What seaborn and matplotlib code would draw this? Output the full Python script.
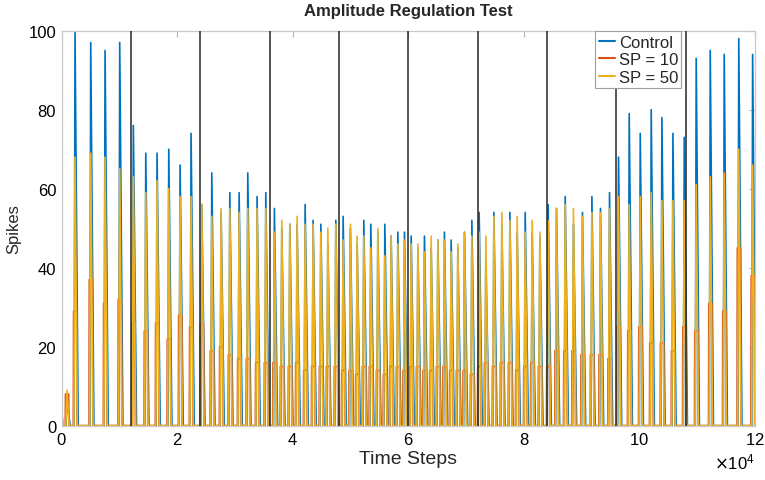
import numpy as np
import pandas as pd
import seaborn as sns
import matplotlib.pyplot as plt
from matplotlib.ticker import ScalarFormatter

# =============================================================================
# Data (peak time in steps, peak height in spikes)
# =============================================================================
peak_times = [0, 900,
              2300, 5020, 7500, 10040,
              12400, 14550, 16500, 18530, 20490, 22390,
              24250, 25980, 27590, 29100, 30710, 32210, 33820, 35330,
              36820, 38100, 39490, 40750, 42140, 43520, 44860, 46070, 47450,
              48720, 49980, 51140, 52300, 53510, 54730, 55940, 57030, 58190, 59340,
              60500, 61660, 62800, 63960, 65120, 66260, 67420, 68580, 69730, 71010,
              72270, 73430, 74820, 76200, 77590, 78850, 80240, 81450, 82780,
              84220, 85660, 87170, 88600, 90160, 91790, 93280, 94840,
              96400, 98250, 100160, 102060, 103910, 105820, 107780,
              109850, 112280, 114700, 117220, 119620]

control_peaks = [0, 7,
                 100, 97, 95, 97,
                 76, 69, 69, 70, 66, 74,
                 56, 64, 54, 59, 59, 64, 58, 59,
                 55, 50, 51, 51, 56, 52, 51, 46, 52,
                 53, 50, 46, 52, 51, 49, 51, 48, 49, 49,
                 48, 45, 48, 45, 47, 49, 47, 45, 49, 52,
                 54, 42, 54, 51, 54, 49, 54, 49, 48,
                 56, 55, 58, 51, 54, 58, 55, 59,
                 68, 79, 74, 80, 78, 74, 73,
                 93, 95, 94, 98, 94]

sp10_peaks = [0, 8,
              29, 37, 31, 32,
              26, 24, 26, 22, 28, 25,
              26, 19, 20, 18, 17, 17, 16, 16,
              16, 15, 15, 16, 14, 15, 15, 15, 15,
              14, 14, 13, 15, 15, 14, 13, 15, 15, 14,
              15, 15, 14, 14, 15, 15, 14, 14, 14, 13,
              15, 16, 15, 16, 16, 14, 15, 16, 15,
              15, 19, 19, 19, 18, 18, 18, 17,
              25, 24, 25, 21, 21, 19, 25,
              24, 31, 29, 45, 38]

sp50_peaks = [3, 9,
              68, 69, 68, 65,
              63, 59, 62, 60, 58, 58,
              56, 53, 55, 55, 54, 55, 55, 55,
              49, 52, 51, 53, 51, 51, 49, 50, 51,
              47, 51, 48, 48, 45, 50, 43, 48, 46, 47,
              46, 46, 44, 48, 47, 47, 44, 46, 49, 48,
              49, 48, 53, 54, 52, 53, 49, 52, 49,
              52, 55, 56, 55, 53, 54, 54, 55,
              58, 56, 58, 59, 57, 57, 57,
              61, 63, 64, 70, 66]

block_edges = [12000, 24000, 36000, 48000, 60000, 72000, 84000, 96000, 108000]

series_names = ['Control', 'SP = 10', 'SP = 50']
series_colors = ['#0072BD', '#D95319', '#EDB120']


def spike_trace(times, peaks, dx, frac):
    """Turn a list of peaks into a spike train line (0 between spikes)."""
    x, y = [], []
    for t, p in zip(times, peaks):
        for d, f in zip(dx, frac):
            x.append(t + d)
            y.append(p * f)
    return x, y


# shape of one spike for each trace (offset in steps, fraction of the peak)
shapes = {
    'Control': ([-150, 0, 550], [0, 1, 0]),
    'SP = 10': ([-300, -250, 300, 350], [0, 1, 1, 0]),
    'SP = 50': ([-200, 0, 400], [0, 1, 0]),
}

frames = []
for name, peaks in zip(series_names, [control_peaks, sp10_peaks, sp50_peaks]):
    dx, frac = shapes[name]
    x, y = spike_trace(peak_times, peaks, dx, frac)
    frames.append(pd.DataFrame({'t': x, 'spikes': y, 'series': name}))
data = pd.concat(frames, ignore_index=True)

# =============================================================================
# Plot
# =============================================================================
sns.set_style("white")
plt.rcParams['font.family'] = ['Liberation Sans', 'DejaVu Sans']

fig = plt.figure(figsize=(7.65, 4.81), dpi=100)
ax = fig.add_axes([0.0807, 0.1129, 0.906, 0.8212])

sns.lineplot(data=data, x='t', y='spikes', hue='series', hue_order=series_names,
             palette=series_colors, estimator=None, sort=False, linewidth=1.2,
             ax=ax)

for edge in block_edges:
    ax.axvline(edge, color='#262626', linewidth=1.1, zorder=5)

ax.set_xlim(0, 120000)
ax.set_ylim(0, 100)
ax.set_xticks(np.arange(0, 120001, 20000))
ax.set_yticks(np.arange(0, 101, 20))
fmt = ScalarFormatter(useMathText=True)
fmt.set_powerlimits((4, 4))
ax.xaxis.set_major_formatter(fmt)
ax.xaxis.get_offset_text().set_fontsize(12)

ax.tick_params(direction='in', length=4, width=0.8, color='#b5b5b5',
               top=True, right=True, labelsize=12, labelcolor='black', pad=4)
for sp in ax.spines.values():
    sp.set_color('#c8c8c8')
    sp.set_linewidth(0.9)

ax.set_xlabel('Time Steps', fontsize=14, labelpad=2)
ax.set_ylabel('Spikes', fontsize=12, labelpad=5)
ax.set_title('Amplitude Regulation Test', fontsize=12, fontweight='bold', pad=11)

leg = ax.legend(loc='upper right', bbox_to_anchor=(0.894, 0.998), fontsize=12,
                handlelength=1.0, handletextpad=0.2, borderpad=0.2,
                labelspacing=0.15, borderaxespad=0.0, fancybox=False,
                framealpha=1.0, edgecolor='#a0a0a0')
leg.get_frame().set_linewidth(0.8)
for line in leg.get_lines():
    line.set_linewidth(1.5)

fig.savefig('out.png', dpi=100)
